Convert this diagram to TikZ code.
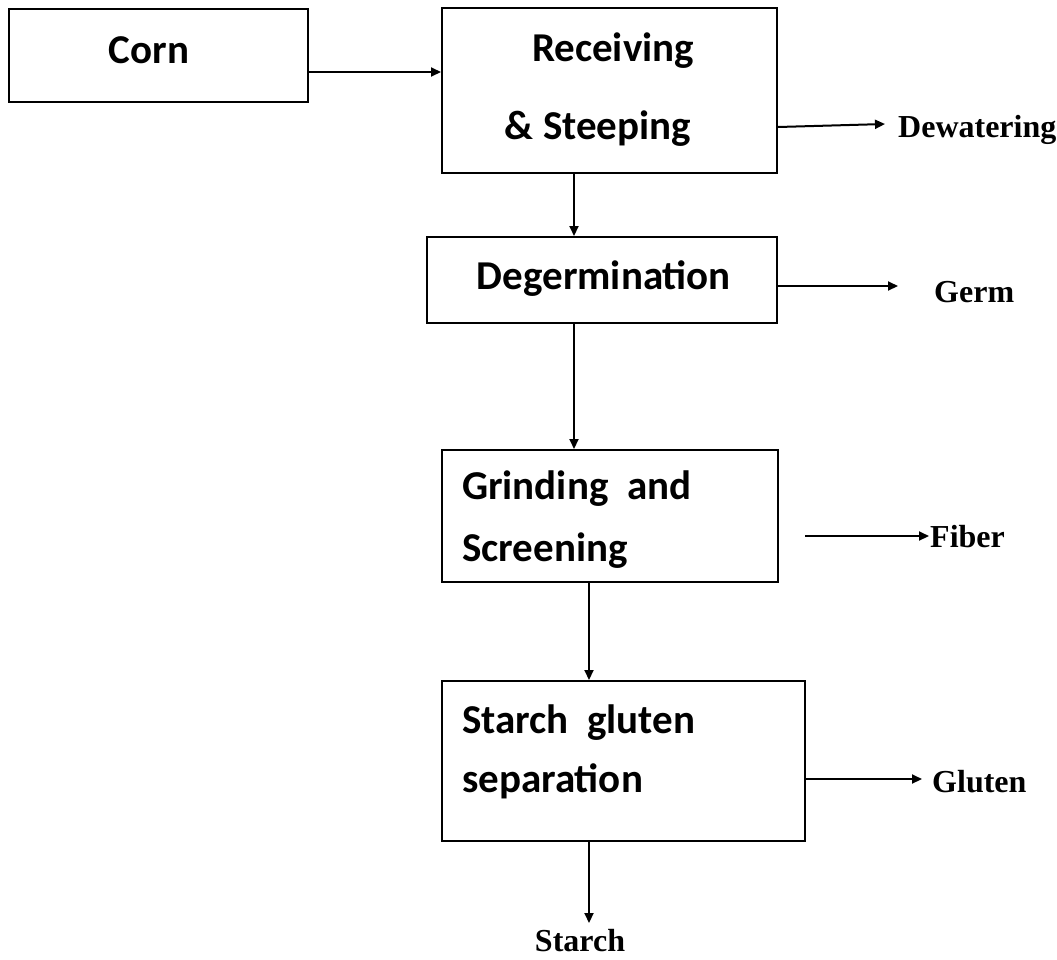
\documentclass[tikz,border=0pt]{standalone}
\usepackage{fontspec}
\usetikzlibrary{arrows.meta}
\newfontfamily\boxfont{Carlito}
\newfontfamily\labfont{Liberation Serif}
\begin{document}
\begin{tikzpicture}[x=1pt,y=-1pt,
  procbox/.style={draw=black,line width=2pt,rectangle,inner sep=0pt},
  boxtxt/.style={inner sep=0pt,font=\boxfont\bfseries\fontsize{41}{46}\selectfont},
  labtxt/.style={inner sep=0pt,font=\labfont\bfseries\fontsize{32}{36}\selectfont},
  arr/.style={line width=2pt,-{Triangle[length=10pt,width=9pt]}}]
\useasboundingbox (0,0) rectangle (1057,959);
% boxes
\node[procbox,minimum width=299pt,minimum height=93pt] (corn) at (158.5,55.5) {};
\node[procbox,minimum width=335pt,minimum height=165pt] (recv) at (609.5,90.5) {};
\node[procbox,minimum width=350pt,minimum height=86pt] (degerm) at (602,280) {};
\node[procbox,minimum width=336pt,minimum height=132pt] (grind) at (610,516) {};
\node[procbox,minimum width=363pt,minimum height=160pt] (sep) at (623.5,761) {};
% box texts
\node[boxtxt,anchor=base] (corntxt) at (149,63) {Corn};
\node[boxtxt,anchor=base] (recvtxt) at (613,61) {Receiving};
\node[boxtxt,anchor=base] (steeptxt) at (598,139) {\& Steeping};
\node[boxtxt,anchor=base] (degtxt) at (604,289) {Degermination};
\node[boxtxt,anchor=base west] (grindtxt) at (462,499) {Grinding\ \ and};
\node[boxtxt,anchor=base west] (screentxt) at (462,561) {Screening};
\node[boxtxt,anchor=base west] (sgtxt) at (462,733) {Starch\ \ gluten};
\node[boxtxt,anchor=base west] (septxt) at (462,792) {separation};
% labels
\node[labtxt,anchor=base west] (dew) at (898,137) {Dewatering};
\node[labtxt,anchor=base west] (germ) at (934,302) {Germ};
\node[labtxt,anchor=base west] (fiber) at (930,547) {Fiber};
\node[labtxt,anchor=base west] (gluten) at (932,792) {Gluten};
\node[labtxt,anchor=base] (starch) at (580,951) {Starch};
% free arrow ends
\coordinate (dewend) at (885,124);
\coordinate (germend) at (898,286);
\coordinate (fibstart) at (805,536);
\coordinate (fibend) at (929,536);
\coordinate (glutend) at (922,779);
\coordinate (starchend) at (589,923);
% connectors
\draw[arr] (corn.east |- 0,72) -- (recv.west |- 0,72);
\draw[arr] (recv.east |- 0,127) -- (dewend);
\draw[arr] (recv.south -| 574,0) -- (degerm.north -| 574,0);
\draw[arr] (degerm.east |- 0,286) -- (germend);
\draw[arr] (degerm.south -| 574,0) -- (grind.north -| 574,0);
\draw[arr] (fibstart) -- (fibend);
\draw[arr] (grind.south -| 589,0) -- (sep.north -| 589,0);
\draw[arr] (sep.east |- 0,779) -- (glutend);
\draw[arr] (sep.south -| 589,0) -- (starchend);
\end{tikzpicture}
\end{document}
